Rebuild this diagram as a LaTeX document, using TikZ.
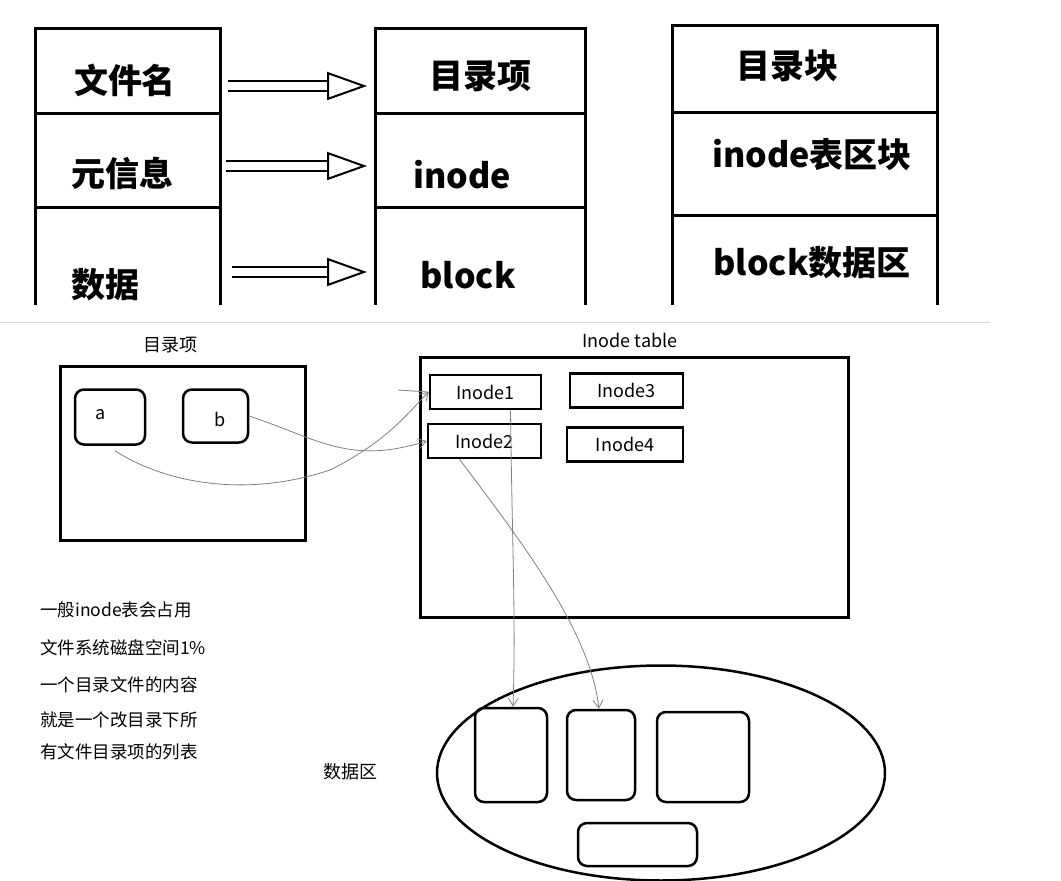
\documentclass[tikz,border=0pt]{standalone}
\usepackage{fontspec}
\setmainfont{Noto Sans CJK SC}
\usetikzlibrary{arrows.meta,shapes.geometric}
\begin{document}
\begin{tikzpicture}[x=1pt,y=-1pt,
  thick box/.style={draw,line width=3pt},
  cell/.style={inner sep=0pt,font=\bfseries\fontsize{34}{36}\selectfont},
  hollow/.style={double,double distance=8pt,line width=2pt,-{Triangle[open,length=40pt,width=28pt]}},
  ibox/.style={draw,line width=2.5pt,minimum width=112pt,minimum height=34pt,inner sep=0pt,font=\fontsize{18}{20}\selectfont},
  rbox/.style={draw,line width=2.5pt,rounded corners=9pt,inner sep=0pt},
  wire/.style={draw=gray,line width=0.8pt,-{Straight Barb[length=8pt,width=10pt]}},
  small/.style={font=\fontsize{18}{20}\selectfont,inner sep=0pt},
  note/.style={font=\fontsize{17.5}{20}\selectfont,inner sep=0pt,anchor=west}]
\useasboundingbox (0,0) rectangle (1061,881);
% top columns
\draw[line width=3pt] (35,305) -- (35,28) -- (220,28) -- (220,305);
\draw[line width=3pt] (35,113) -- (220,113) (35,207) -- (220,207);
\draw[line width=3pt] (375,305) -- (375,28) -- (585,28) -- (585,305);
\draw[line width=3pt] (375,113) -- (585,113) (375,207) -- (585,207);
\draw[line width=3pt] (672,305) -- (672,25) -- (937,25) -- (937,305);
\draw[line width=3pt] (672,112) -- (937,112) (672,215) -- (937,215);
\draw[gray!30,line width=0.5pt] (0,322) -- (990,322);
\node[cell] (t1) at (125,80) {文件名};
\node[cell] (t2) at (122,173) {元信息};
\node[cell] (t3) at (105,285) {数据};
\node[cell] (m1) at (480,76) {目录项};
\node[cell] (m2) at (462,175) {inode};
\node[cell] (m3) at (468,275) {block};
\node[cell] (r1) at (787,66) {目录块};
\node[cell] (r2) at (812,155) {inode表区块};
\node[cell] (r3) at (812,263) {block数据区};
\coordinate (h1a) at (228,86); \coordinate (h1b) at (367,86);
\coordinate (h2a) at (226,166); \coordinate (h2b) at (367,166);
\coordinate (h3a) at (232,272); \coordinate (h3b) at (367,272);
\draw[hollow] (h1a) -- (h1b);
\draw[hollow] (h2a) -- (h2b);
\draw[hollow] (h3a) -- (h3b);
% bottom
\node[small] (dl) at (170,345) {目录项};
\node[thick box,minimum width=245pt,minimum height=174pt,inner sep=0pt] (dir) at (182.5,453) {};
\node[rbox,minimum width=70pt,minimum height=55pt] (a) at (110,417) {};
\node[small] at (101,415) {a};
\node[rbox,minimum width=65pt,minimum height=53pt] (b) at (215.5,416) {};
\node[small] at (220,419) {b};
\node[small] (tl) at (630,340) {Inode table};
\node[thick box,minimum width=428pt,minimum height=260pt,inner sep=0pt] (tab) at (634,487) {};
\node[ibox,minimum width=111pt] (i1) at (485.5,392) {Inode1};
\node[ibox,minimum width=113pt] (i3) at (626.5,390.5) {Inode3};
\node[ibox,minimum width=113pt] (i2) at (484.5,441) {Inode2};
\node[ibox,minimum width=116pt] (i4) at (625,444.5) {Inode4};
\node[draw,ellipse,line width=2.5pt,minimum width=448pt,minimum height=215pt,inner sep=0pt] (ell) at (661,773) {};
\node[rbox,minimum width=72pt,minimum height=94pt] (d1) at (511,755) {};
\node[rbox,minimum width=68pt,minimum height=90pt] (d2) at (601,755) {};
\node[rbox,minimum width=92pt,minimum height=90pt] (d3) at (703,757) {};
\node[rbox,minimum width=119pt,minimum height=43pt] (d4) at (637.5,844.5) {};
\node[small] (dz) at (350,772) {数据区};
\node[note] at (40,610) {一般inode表会占用};
\node[note] at (40,648) {文件系统磁盘空间1\%};
\node[note] at (40,685) {一个目录文件的内容};
\node[note] at (40,720) {就是一个改目录下所};
\node[note] at (40,752) {有文件目录项的列表};
\draw[wire] (a.south) ++(5,5) .. controls (160,480) and (240,500) .. (330,470) .. controls (390,440) and (410,410) .. (i1.west);
\draw[gray,line width=0.8pt] (398,390) -- (428,392);
\draw[wire] (b.east) .. controls (320,440) and (350,465) .. (i2.west);
\draw[wire] (i1.south) ++(25,0) .. controls (512,540) and (516,620) .. ([xshift=2pt]d1.north);
\draw[wire] (i2.south) ++(-25,0) .. controls (520,540) and (590,630) .. ([xshift=-2pt]d2.north);
\end{tikzpicture}
\end{document}
